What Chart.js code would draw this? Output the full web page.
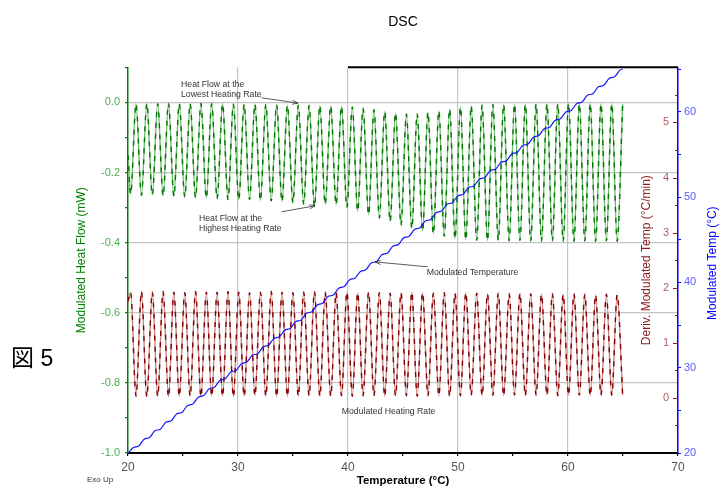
<html>
<head>
  <meta charset="utf-8">
  <script src="https://cdn.jsdelivr.net/npm/chart.js@4/dist/chart.umd.min.js"></script>
  <style>
    body { margin: 0; background: #fff; }
    #chart { display: block; }
  </style>
</head>
<body>
  <canvas id="chart" width="720" height="488"></canvas>

  <script>
    // temperatures (°C) at each peak / valley of the modulation
    var tempPts = [20.00, 20.24, 20.73, 21.22, 21.71, 22.21, 22.70, 23.19, 23.68, 24.17, 24.66, 25.16, 25.65, 26.14, 26.63, 27.12, 27.61, 28.10, 28.60, 29.09, 29.58,
      30.07, 30.56, 31.05, 31.54, 32.04, 32.53, 33.02, 33.51, 34.00, 34.49, 34.99, 35.48, 35.97, 36.46, 36.95, 37.44, 37.93, 38.43, 38.92, 39.41,
      39.90, 40.39, 40.88, 41.37, 41.87, 42.36, 42.85, 43.34, 43.83, 44.32, 44.82, 45.31, 45.80, 46.29, 46.78, 47.27, 47.76, 48.26, 48.75, 49.24,
      49.73, 50.22, 50.71, 51.20, 51.70, 52.19, 52.68, 53.17, 53.66, 54.15, 54.65, 55.14, 55.63, 56.12, 56.61, 57.10, 57.59, 58.09, 58.58, 59.07,
      59.56, 60.05, 60.54, 61.03, 61.53, 62.02, 62.51, 63.00, 63.49, 63.98, 64.47, 64.97];

    // Modulated Heat Flow (mW)
    var heatFlow = [-0.150, -0.262, -0.004, -0.265, -0.003, -0.264, -0.004, -0.267, -0.003, -0.268, -0.004, -0.270, -0.004, -0.272, -0.003, -0.273, -0.004, -0.275, -0.004, -0.277, -0.005,
      -0.278, -0.005, -0.277, -0.005, -0.280, -0.006, -0.281, -0.007, -0.283, -0.008, -0.286, -0.008, -0.290, -0.009, -0.298, -0.009, -0.291, -0.010, -0.292, -0.011,
      -0.300, -0.013, -0.310, -0.017, -0.320, -0.021, -0.330, -0.026, -0.340, -0.030, -0.350, -0.033, -0.360, -0.032, -0.367, -0.028, -0.375, -0.024, -0.382, -0.019,
      -0.389, -0.014, -0.392, -0.010, -0.393, -0.008, -0.394, -0.006, -0.394, -0.006, -0.395, -0.005, -0.394, -0.005, -0.395, -0.004, -0.396, -0.004, -0.395, -0.004,
      -0.396, -0.003, -0.396, -0.004, -0.395, -0.003, -0.396, -0.004, -0.395, -0.004, -0.396, -0.005];

    // Deriv. Modulated Temp (°C/min)
    var heatRate = [1.75, 1.92, 0.03, 1.93, 0.02, 1.92, 0.03, 1.93, 0.02, 1.92, 0.03, 1.91, 0.03, 1.93, 0.02, 1.92, 0.03, 1.92, 0.03, 1.93, 0.02,
      1.92, 0.03, 1.91, 0.04, 1.92, 0.03, 1.93, 0.02, 1.92, 0.03, 1.91, 0.03, 1.92, 0.04, 1.93, 0.03, 1.92, 0.03, 1.91, 0.04,
      1.92, 0.03, 1.91, 0.04, 1.92, 0.04, 1.91, 0.03, 1.90, 0.04, 1.91, 0.04, 1.92, 0.03, 1.91, 0.04, 1.90, 0.04, 1.91, 0.03,
      1.90, 0.04, 1.91, 0.05, 1.90, 0.04, 1.89, 0.05, 1.90, 0.04, 1.89, 0.05, 1.90, 0.04, 1.89, 0.05, 1.88, 0.05, 1.89, 0.04,
      1.88, 0.05, 1.89, 0.05, 1.88, 0.04, 1.87, 0.05, 1.88, 0.05, 1.87, 0.05];

    // Modulated Temp (°C), sampled between the peaks
    var tempMid = [20.00, 20.49, 20.98, 21.47, 21.96, 22.45, 22.94, 23.44, 23.93, 24.42, 24.91, 25.40, 25.89, 26.39, 26.88, 27.37, 27.86, 28.35, 28.84, 29.33, 29.83,
      30.32, 30.81, 31.30, 31.79, 32.28, 32.77, 33.27, 33.76, 34.25, 34.74, 35.23, 35.72, 36.22, 36.71, 37.20, 37.69, 38.18, 38.67, 39.16, 39.66,
      40.15, 40.64, 41.13, 41.62, 42.11, 42.60, 43.10, 43.59, 44.08, 44.57, 45.06, 45.55, 46.05, 46.54, 47.03, 47.52, 48.01, 48.50, 48.99, 49.49,
      49.98, 50.47, 50.96, 51.45, 51.94, 52.43, 52.93, 53.42, 53.91, 54.40, 54.89, 55.38, 55.88, 56.37, 56.86, 57.35, 57.84, 58.33, 58.82, 59.31,
      59.81, 60.30, 60.79, 61.28, 61.77, 62.26, 62.76, 63.25, 63.74, 64.23, 64.72, 64.97];
    var modTemp = [19.95, 20.64, 20.83, 21.62, 21.81, 22.60, 22.79, 23.59, 23.78, 24.57, 24.76, 25.55, 25.74, 26.54, 26.73, 27.52, 27.71, 28.50, 28.69, 29.48, 29.68,
      30.47, 30.66, 31.45, 31.64, 32.43, 32.62, 33.42, 33.61, 34.40, 34.59, 35.38, 35.57, 36.37, 36.56, 37.35, 37.54, 38.33, 38.52, 39.31, 39.51,
      40.30, 40.49, 41.28, 41.47, 42.26, 42.45, 43.25, 43.44, 44.23, 44.42, 45.21, 45.40, 46.20, 46.39, 47.18, 47.37, 48.16, 48.35, 49.14, 49.34,
      50.13, 50.32, 51.11, 51.30, 52.09, 52.28, 53.08, 53.27, 54.06, 54.25, 55.04, 55.23, 56.03, 56.22, 57.01, 57.20, 57.99, 58.18, 58.97, 59.16,
      59.96, 60.15, 60.94, 61.13, 61.92, 62.11, 62.91, 63.10, 63.89, 64.08, 64.87, 65.00];

    // notes on the plot, anchored in (°C, mW)
    var noteText = [["Heat Flow at the", "Lowest Heating Rate"], ["Heat Flow at the", "Highest Heating Rate"], ["Modulated Temperature"], ["Modulated Heating Rate"]];
    var noteAt = [[24.82, 0.052], [26.45, -0.331], [47.15, -0.486], [39.43, -0.882]];
    var arrowFrom = [[32.15, 0.013], [33.97, -0.312], [47.25, -0.469]];
    var arrowTo = [[35.45, -0.002], [37.0, -0.295], [42.45, -0.455]];

    var FONT = '"Liberation Sans", Arial, sans-serif';
    var GRID = "#c4c4c4";
    var NONE = "rgba(0,0,0,0)";

    function pts(xs, ys) {
      return xs.map(function(t, i) { return { x: t, y: ys[i] }; });
    }

    function upText(ctx, text, x, y, color) {
      ctx.save();
      ctx.translate(x, y);
      ctx.rotate(-Math.PI / 2);
      ctx.fillStyle = color;
      ctx.font = "12px " + FONT;
      ctx.textAlign = "center";
      ctx.textBaseline = "middle";
      ctx.fillText(text, 0, 0);
      ctx.restore();
    }

    var overlay = {
      id: "overlay",
      afterDraw: function(chart) {
        var ctx = chart.ctx, a = chart.chartArea, sx = chart.scales.x, sy = chart.scales.y;
        var rate = chart.scales.yRate, temp = chart.scales.yTemp;
        ctx.save();

        // piece of top frame
        ctx.strokeStyle = "#000";
        ctx.lineWidth = 2;
        ctx.beginPath();
        ctx.moveTo(sx.getPixelForValue(40), a.top);
        ctx.lineTo(a.right, a.top);
        ctx.stroke();

        // inward ticks of the rate axis
        ctx.strokeStyle = "#8b1a1a";
        ctx.lineWidth = 1;
        rate.ticks.forEach(function(t) {
          if (t.value <= -1 || t.value >= 6) return;
          var py = Math.round(rate.getPixelForValue(t.value)) + 0.5;
          var len = Number.isInteger(t.value) ? 5 : 3;
          ctx.beginPath();
          ctx.moveTo(rate.left - len, py);
          ctx.lineTo(rate.left, py);
          ctx.stroke();
        });

        // notes
        ctx.fillStyle = "#333";
        ctx.font = "8.7px " + FONT;
        ctx.textAlign = "left";
        ctx.textBaseline = "middle";
        noteText.forEach(function(lines, i) {
          var px = sx.getPixelForValue(noteAt[i][0]), py = sy.getPixelForValue(noteAt[i][1]);
          lines.forEach(function(s, j) { ctx.fillText(s, px, py + j * 10.5); });
        });

        // arrows
        ctx.strokeStyle = "#333";
        ctx.lineWidth = 0.8;
        arrowFrom.forEach(function(f, i) {
          var x0 = sx.getPixelForValue(f[0]), y0 = sy.getPixelForValue(f[1]);
          var x1 = sx.getPixelForValue(arrowTo[i][0]), y1 = sy.getPixelForValue(arrowTo[i][1]);
          var ang = Math.atan2(y1 - y0, x1 - x0);
          ctx.beginPath();
          ctx.moveTo(x0, y0);
          ctx.lineTo(x1, y1);
          ctx.moveTo(x1 - 6 * Math.cos(ang - 0.35), y1 - 6 * Math.sin(ang - 0.35));
          ctx.lineTo(x1, y1);
          ctx.lineTo(x1 - 6 * Math.cos(ang + 0.35), y1 - 6 * Math.sin(ang + 0.35));
          ctx.stroke();
        });

        // right axis titles read upwards
        var vc = (a.top + a.bottom) / 2;
        upText(ctx, "Deriv. Modulated Temp (°C/min)", rate.left - 31, vc, "#8b1a1a");
        upText(ctx, "Modulated Temp (°C)", temp.right - 7.5, vc + 3, "#0000ff");

        // figure number and Exo Up
        ctx.fillStyle = "#000";
        ctx.textAlign = "left";
        ctx.textBaseline = "alphabetic";
        ctx.font = '23px "Liberation Sans", "Noto Sans CJK JP", sans-serif';
        ctx.fillText("図 5", 11, 366);
        ctx.fillStyle = "#333";
        ctx.font = "8px " + FONT;
        ctx.textBaseline = "middle";
        ctx.fillText("Exo Up", 87, 480);

        ctx.restore();
      }
    };

    var common = { pointRadius: 0, fill: false, cubicInterpolationMode: "monotone" };

    var chart = new Chart(document.getElementById("chart").getContext("2d"), {
      type: "line",
      data: {
        datasets: [
          Object.assign({ label: "Modulated Temp", data: pts(tempMid, modTemp), yAxisID: "yTemp", borderColor: "#1414ff", borderWidth: 1.2 }, common),
          Object.assign({ label: "Heat Flow", data: pts(tempPts, heatFlow), yAxisID: "y", borderColor: "#007800", borderWidth: 1.4, borderDash: [5, 6] }, common),
          Object.assign({ label: "Heat Flow", data: pts(tempPts, heatFlow), yAxisID: "y", borderColor: "#72bd72", borderWidth: 1.4 }, common),
          Object.assign({ label: "Heating Rate", data: pts(tempPts, heatRate), yAxisID: "yRate", borderColor: "#870000", borderWidth: 1.4, borderDash: [5, 6] }, common),
          Object.assign({ label: "Heating Rate", data: pts(tempPts, heatRate), yAxisID: "yRate", borderColor: "#c98585", borderWidth: 1.4 }, common)
        ]
      },
      options: {
        responsive: false,
        animation: false,
        devicePixelRatio: 1,
        layout: { padding: { left: 70, right: 0, top: 0, bottom: 0 } },
        plugins: {
          legend: { display: false },
          tooltip: { enabled: false },
          title: {
            display: true, text: "DSC", fullSize: false, color: "#000",
            font: { family: FONT, size: 14, weight: "normal" },
            padding: { top: 13.6, bottom: 36.9 }
          }
        },
        scales: {
          x: {
            type: "linear", position: "bottom", min: 20, max: 70,
            afterFit: function(s) { s.height = 35; },
            ticks: {
              stepSize: 5, autoSkip: false, maxRotation: 0, color: "#555", padding: 4,
              font: { family: FONT, size: 12 },
              callback: function(v) { return v % 10 === 0 ? String(v) : ""; }
            },
            grid: {
              color: function(c) { var v = c.tick ? c.tick.value : 0; return (v % 10 === 0 && v > 20 && v < 70) ? GRID : NONE; },
              lineWidth: 1.2, tickColor: "#000", tickLength: 3
            },
            border: { color: "#000", width: 2 },
            title: { display: true, text: "Temperature (°C)", color: "#000", font: { family: FONT, size: 11.5, weight: "bold" }, padding: { top: 0, bottom: 0 } }
          },
          y: {
            position: "left", min: -1.0, max: 0.1,
            afterFit: function(s) { s.width = 58; },
            ticks: {
              stepSize: 0.1, autoSkip: false, color: "#4fae4f", padding: 5,
              font: { family: FONT, size: 11 },
              callback: function(v) {
                var t = Math.round(v * 10);
                if (t % 2 !== 0 || t > 0) return "";
                return t === 0 ? "0.0" : (t / 10).toFixed(1);
              }
            },
            grid: {
              color: function(c) { var t = c.tick ? Math.round(c.tick.value * 10) : 1; return (t % 2 === 0 && t > -10 && t <= 0) ? GRID : NONE; },
              lineWidth: 1.2, tickColor: "#008000", tickLength: 3
            },
            border: { color: "#008000", width: 1.5 },
            title: { display: true, text: "Modulated Heat Flow (mW)", color: "#008000", font: { family: FONT, size: 12 }, padding: { top: 4, bottom: 4 } }
          },
          yRate: {
            position: "right", weight: 0, min: -1, max: 6,
            afterFit: function(s) { s.width = 0; },
            ticks: {
              stepSize: 0.5, autoSkip: false, includeBounds: false, mirror: true, padding: -9, color: "#b05a5a",
              font: { family: FONT, size: 11 },
              callback: function(v) { return (Number.isInteger(v) && v >= 0 && v <= 5) ? String(v) : ""; }
            },
            grid: { display: false, drawTicks: false },
            border: { display: false }
          },
          yTemp: {
            position: "right", weight: 1, min: 20, max: 65.2,
            afterFit: function(s) { s.width = 42; },
            ticks: {
              stepSize: 5, autoSkip: false, includeBounds: false, padding: 3, color: "#5a5aff",
              font: { family: FONT, size: 11 },
              callback: function(v) { return v % 10 === 0 ? String(v) : ""; }
            },
            grid: { drawOnChartArea: false, tickColor: "#0000ff", tickLength: 3 },
            border: { color: "#0000ff", width: 1.5 }
          }
        }
      },
      plugins: [overlay]
    });
  </script>
</body>
</html>
